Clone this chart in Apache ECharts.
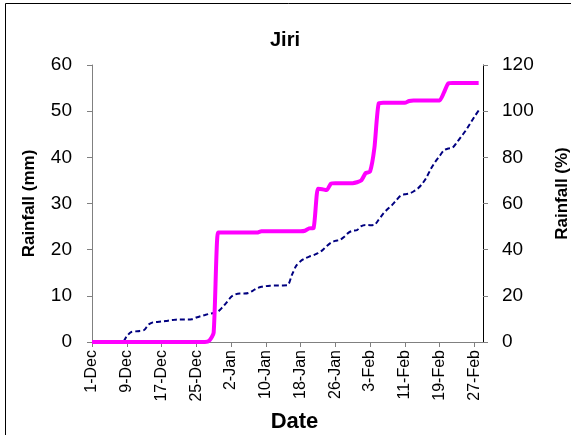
<!DOCTYPE html>
<html>
<head>
<meta charset="utf-8">
<script src="https://cdn.jsdelivr.net/npm/echarts@6/dist/echarts.min.js"></script>
<style>
html,body{margin:0;padding:0;background:#fff;}
#chart{width:571px;height:435px;}
</style>
</head>
<body>
<div id="chart"></div>
<script>
var title = 'Jiri';
var leftAxisName = 'Rainfall (mm)';
var rightAxisName = 'Rainfall (%)';
var xAxisName = 'Date';

var dates = [
'1-Dec','2-Dec','3-Dec','4-Dec','5-Dec','6-Dec','7-Dec','8-Dec','9-Dec','10-Dec',
'11-Dec','12-Dec','13-Dec','14-Dec','15-Dec','16-Dec','17-Dec','18-Dec','19-Dec','20-Dec',
'21-Dec','22-Dec','23-Dec','24-Dec','25-Dec','26-Dec','27-Dec','28-Dec','29-Dec','30-Dec','31-Dec',
'1-Jan','2-Jan','3-Jan','4-Jan','5-Jan','6-Jan','7-Jan','8-Jan','9-Jan','10-Jan',
'11-Jan','12-Jan','13-Jan','14-Jan','15-Jan','16-Jan','17-Jan','18-Jan','19-Jan','20-Jan',
'21-Jan','22-Jan','23-Jan','24-Jan','25-Jan','26-Jan','27-Jan','28-Jan','29-Jan','30-Jan','31-Jan',
'1-Feb','2-Feb','3-Feb','4-Feb','5-Feb','6-Feb','7-Feb','8-Feb','9-Feb','10-Feb',
'11-Feb','12-Feb','13-Feb','14-Feb','15-Feb','16-Feb','17-Feb','18-Feb','19-Feb','20-Feb',
'21-Feb','22-Feb','23-Feb','24-Feb','25-Feb','26-Feb','27-Feb','28-Feb','29-Feb'
];

// cumulative rainfall (mm), left axis
var rainfallMm = [
0,0,0,0,0,0,0,0,0,0,
0,0,0,0,0,0,0,0,0,0,
0,0,0,0,0,0,0,0.3,2,23.7,
23.7,23.7,23.7,23.7,23.7,23.7,23.7,23.7,23.7,24.0,
24.0,24.0,24.0,24.0,24.0,24.0,24.0,24.0,24.0,24.1,
24.6,24.7,33.2,33.1,32.9,34.3,34.4,34.4,34.4,34.4,
34.4,34.6,35.0,36.6,36.9,42.0,51.7,51.8,51.8,51.8,
51.8,51.8,51.8,52.2,52.3,52.3,52.3,52.3,52.3,52.3,
52.3,54.0,56.0,56.1,56.1,56.1,56.1,56.1,56.1,56.1,
null
];

// cumulative rainfall (%), right axis
var rainfallPct = [
0,0,0,0,0,0,0,0,2.5,4.3,
4.6,4.8,5.2,7.5,8.5,8.7,8.9,9.1,9.4,9.6,
9.8,9.8,9.8,9.9,10.6,11.2,11.7,12.2,12.6,13.2,
15.0,17.2,19.5,20.6,21.0,21.0,21.2,22.2,23.3,23.9,
24.2,24.4,24.5,24.5,24.5,24.6,29.0,33.0,35.0,36.2,
37.0,37.6,38.5,39.7,41.5,43.0,43.8,44.2,45.5,47.3,
48.2,48.5,50.2,50.7,50.6,50.8,53.0,55.5,57.5,59.2,
61.3,63.3,64.0,64.3,65.2,66.5,68.5,71.3,75.0,78.0,
80.5,83.0,83.8,84.2,86.5,89.0,91.5,94.5,97.5,100.3,
null
];

var chart = echarts.init(document.getElementById('chart'), null, {renderer: 'canvas'});
var font = '"Liberation Sans", Arial, sans-serif';

chart.setOption({
  animation: false,
  backgroundColor: '#fff',
  textStyle: {fontFamily: font},
  title: {
    text: title,
    left: 265, top: 25,
    textStyle: {fontSize: 20, fontWeight: 'bold', color: '#000', fontFamily: font}
  },
  graphic: [{
    type: 'rect', shape: {x: 5.5, y: 3.5, width: 700, height: 600},
    style: {fill: null, stroke: '#000', lineWidth: 1}, silent: true
  }],
  grid: {left: 92, right: 88, top: 65, bottom: 93, containLabel: false, outerBoundsMode: 'none'},
  xAxis: {
    type: 'category',
    data: dates,
    boundaryGap: false,
    name: xAxisName,
    nameLocation: 'middle',
    nameGap: 69,
    nameTextStyle: {fontSize: 22, fontWeight: 'bold', color: '#000', fontFamily: font, padding: [0, 0, 0, 14]},
    axisLine: {lineStyle: {color: '#808080', width: 1}},
    axisTick: {interval: 7, length: 5, inside: false, lineStyle: {color: '#808080'}},
    axisLabel: {interval: 7, rotate: 90, fontSize: 16, color: '#000', fontFamily: font, margin: 8},
    splitLine: {show: false}
  },
  yAxis: [{
    type: 'value', min: 0, max: 60, interval: 10,
    name: leftAxisName, nameLocation: 'middle', nameRotate: 90, nameGap: 54,
    nameTextStyle: {fontSize: 17, fontWeight: 'bold', color: '#000', fontFamily: font},
    axisLine: {show: true, lineStyle: {color: '#808080', width: 1}},
    axisTick: {show: true, length: 5, lineStyle: {color: '#808080'}},
    axisLabel: {fontSize: 19, color: '#000', fontFamily: font, margin: 20},
    splitLine: {show: false}
  }, {
    type: 'value', min: 0, max: 120, interval: 20,
    name: rightAxisName, nameLocation: 'middle', nameRotate: 90, nameGap: 71,
    nameTextStyle: {fontSize: 17, fontWeight: 'bold', color: '#000', fontFamily: font, padding: [0, 0, 0, 20]},
    position: 'right',
    axisLine: {show: true, lineStyle: {color: '#000', width: 1}},
    axisTick: {show: true, length: 5, lineStyle: {color: '#808080'}},
    axisLabel: {fontSize: 19, color: '#000', fontFamily: font, margin: 19},
    splitLine: {show: false}
  }],
  series: [{
    type: 'line', name: 'Rainfall (%)', yAxisIndex: 1,
    data: rainfallPct, showSymbol: false, smooth: 0.3,
    lineStyle: {color: '#000080', width: 2, type: [5, 3]},
    z: 2
  }, {
    type: 'line', name: 'Rainfall (mm)', yAxisIndex: 0,
    data: rainfallMm, showSymbol: false, smooth: 0.2,
    lineStyle: {color: '#FF00FF', width: 4},
    z: 3
  }]
});
</script>
</body>
</html>
